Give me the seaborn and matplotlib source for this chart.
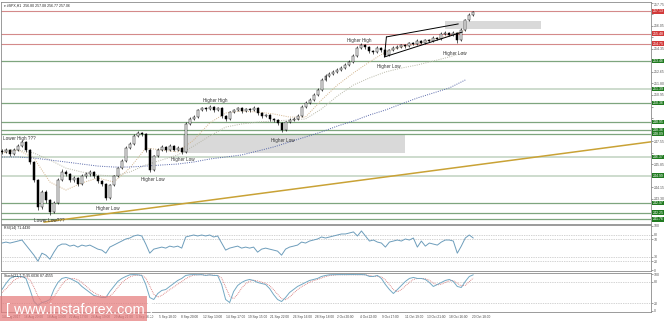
import numpy as np
import pandas as pd
import matplotlib
matplotlib.use("Agg")
import matplotlib.pyplot as plt
from matplotlib.patches import Rectangle
import seaborn as sns

# ---------------- data ----------------
close = [246.74, 246.89, 246.59, 246.89, 247.18, 247.48, 246.89, 246.00, 244.67, 242.67,
         243.78, 243.19, 242.30, 242.97, 244.67, 245.26, 245.11, 244.67, 244.82, 244.37,
         244.96, 245.11, 245.26, 244.96, 244.59, 244.37, 243.34, 244.30, 244.96, 245.55,
         246.07, 247.03, 247.33, 247.92, 248.14, 248.07, 246.89, 245.41, 246.44, 246.89,
         247.11, 246.89, 247.18, 246.89, 247.03, 246.74, 248.81, 249.18, 249.33, 249.84,
         249.99, 249.92, 250.06, 249.84, 249.99, 249.40, 249.18, 249.69, 249.84, 249.99,
         249.77, 249.92, 249.84, 249.99, 249.62, 249.40, 249.47, 249.18, 249.10, 248.88,
         248.36, 248.95, 249.10, 249.18, 249.40, 250.06, 250.36, 250.58, 250.95, 251.32,
         252.06, 252.35, 252.50, 252.65, 252.80, 252.94, 253.17, 253.39, 253.83, 254.42,
         254.64, 254.50, 254.20, 254.13, 254.42, 254.27, 253.91, 254.27, 254.42, 254.50,
         254.64, 254.57, 254.79, 254.72, 254.94, 254.79, 255.01, 254.94, 255.16, 255.09,
         255.46, 255.53, 255.38, 255.53, 255.01, 255.75, 256.49, 256.86, 257.08]
first_open = 246.80
high = [246.95, 247.00, 246.98, 247.05, 247.30, 247.62, 247.55, 246.95, 246.10, 244.75,
        243.95, 243.90, 243.30, 243.10, 244.80, 245.45, 245.40, 245.20, 244.95, 244.90,
        245.10, 245.25, 245.40, 245.35, 245.05, 244.70, 244.45, 244.40, 245.05, 245.65,
        246.20, 247.15, 247.45, 248.05, 248.30, 248.25, 248.15, 247.00, 246.55, 247.00,
        247.25, 247.20, 247.30, 247.25, 247.15, 247.10, 248.95, 249.30, 249.45, 249.95,
        250.10, 250.08, 250.18, 250.12, 250.10, 250.05, 249.50, 249.80, 249.95, 250.10,
        250.05, 250.02, 250.00, 250.12, 250.05, 249.72, 249.58, 249.55, 249.28, 249.20,
        248.95, 249.05, 249.22, 249.30, 249.52, 250.18, 250.48, 250.70, 251.08, 251.45,
        252.18, 252.48, 252.62, 252.78, 252.92, 253.06, 253.30, 253.52, 253.95, 254.55,
        254.78, 254.75, 254.60, 254.30, 254.55, 254.50, 254.35, 254.38, 254.55, 254.62,
        254.75, 254.72, 254.90, 254.88, 255.05, 255.02, 255.12, 255.10, 255.28, 255.25,
        255.58, 255.65, 255.60, 255.65, 255.60, 255.88, 256.60, 256.98, 257.14]
low = [246.60, 246.65, 246.48, 246.50, 246.80, 247.10, 246.75, 245.85, 244.50, 242.45,
       242.55, 243.00, 242.05, 242.20, 242.90, 244.60, 244.95, 244.50, 244.55, 244.20,
       244.30, 244.85, 245.00, 244.85, 244.45, 244.20, 243.20, 243.25, 244.20, 244.90,
       245.45, 246.00, 246.95, 247.25, 247.85, 247.95, 246.75, 245.25, 245.35, 246.35,
       246.80, 246.75, 246.80, 246.78, 246.80, 246.60, 246.70, 248.70, 249.10, 249.25,
       249.75, 249.80, 249.85, 249.72, 249.75, 249.28, 249.05, 249.10, 249.60, 249.75,
       249.65, 249.68, 249.72, 249.75, 249.50, 249.28, 249.30, 249.05, 248.98, 248.75,
       248.20, 248.28, 248.85, 249.00, 249.10, 249.32, 249.98, 250.28, 250.50, 250.88,
       251.25, 251.98, 252.25, 252.42, 252.55, 252.72, 252.85, 253.10, 253.30, 253.75,
       254.35, 254.38, 254.08, 254.00, 254.05, 254.15, 253.80, 253.85, 254.18, 254.35,
       254.42, 254.45, 254.50, 254.62, 254.65, 254.70, 254.72, 254.85, 254.88, 255.00,
       255.02, 255.38, 255.28, 255.30, 254.82, 254.95, 255.68, 256.40, 256.77]

rsi = [61.4, 63.6, 61.4, 63.6, 65.9, 68.2, 56.8, 45.5, 34.1, 20.5,
       38.6, 34.1, 25.0, 40.9, 54.5, 59.1, 59.1, 54.5, 56.8, 52.3,
       56.8, 54.5, 56.8, 52.3, 47.7, 45.5, 38.6, 52.3, 56.8, 61.4,
       65.9, 70.5, 72.7, 77.3, 79.5, 77.3, 59.1, 38.6, 47.7, 50.0,
       52.3, 50.0, 54.5, 52.3, 54.5, 50.0, 75.0, 77.3, 79.5, 77.3,
       79.5, 77.3, 79.5, 75.0, 77.3, 61.4, 45.5, 50.0, 52.3, 54.5,
       50.0, 52.3, 50.0, 52.3, 40.9, 47.7, 50.0, 47.7, 45.5, 43.2,
       34.1, 47.7, 52.3, 54.5, 56.8, 63.6, 61.4, 65.9, 68.2, 70.5,
       75.0, 72.7, 75.0, 77.3, 79.5, 81.8, 81.8, 84.1, 86.4, 77.3,
       88.6, 77.3, 65.9, 68.2, 63.6, 61.4, 52.3, 63.6, 65.9, 68.2,
       65.9, 70.5, 68.2, 72.7, 52.3, 65.9, 54.5, 61.4, 59.1, 56.8,
       63.6, 68.2, 68.2, 65.9, 38.6, 54.5, 72.7, 79.5, 72.7]

stoch_main = [58.3, 75.0, 88.9, 94.4, 94.4, 94.4, 88.9, 58.3, 25.0, 13.9,
              22.2, 25.0, 30.6, 58.3, 77.8, 88.9, 91.7, 88.9, 83.3, 77.8,
              66.7, 58.3, 50.0, 41.7, 38.9, 36.1, 36.1, 52.8, 66.7, 80.6,
              88.9, 94.4, 99.0, 99.5, 99.0, 97.2, 72.2, 36.1, 30.6, 47.2,
              55.6, 58.3, 66.7, 75.0, 83.3, 88.9, 97.2, 99.0, 99.5, 99.0,
              99.5, 97.2, 99.0, 97.2, 97.2, 72.2, 30.6, 22.2, 52.8, 69.4,
              77.8, 83.3, 86.1, 83.3, 77.8, 75.0, 72.2, 61.1, 44.4, 30.6,
              25.0, 36.1, 50.0, 58.3, 66.7, 72.2, 77.8, 83.3, 86.1, 88.9,
              94.4, 97.2, 99.0, 99.3, 99.5, 99.6, 99.5, 99.7, 99.7, 99.5,
              99.7, 99.0, 94.4, 94.4, 97.2, 88.9, 72.2, 58.3, 47.2, 58.3,
              69.4, 80.6, 88.9, 91.7, 88.9, 88.9, 86.1, 77.8, 66.7, 72.2,
              77.8, 83.3, 86.1, 80.6, 66.7, 63.9, 80.6, 94.4, 99.0]
stoch_signal = [50, 60, 72, 84, 90, 93, 93, 85, 65, 40,
                22, 20, 24, 38, 55, 72, 84, 89, 89, 85,
                78, 68, 58, 50, 44, 40, 37, 40, 50, 64,
                77, 86, 93, 97, 98, 98, 90, 68, 45, 37,
                42, 50, 58, 65, 73, 80, 88, 94, 98, 99,
                99, 98, 98, 98, 97, 90, 65, 40, 33, 45,
                62, 74, 81, 84, 82, 79, 75, 69, 58, 45,
                33, 30, 37, 48, 58, 66, 72, 78, 83, 86,
                90, 94, 97, 98, 99, 99, 99, 99, 99, 99,
                99, 99, 97, 95, 95, 93, 85, 72, 58, 52,
                58, 68, 78, 86, 89, 89, 88, 84, 76, 71,
                73, 78, 82, 83, 76, 68, 70, 80, 90]

# moving averages sampled every 4th bar
ma_fast = [246.66, 246.89, 246.29, 244.52, 243.93, 244.45, 244.82, 244.52, 245.55, 247.03,
           246.89, 246.74, 247.62, 248.88, 249.62, 249.77, 249.69, 249.55, 249.32, 249.32,
           250.58, 251.69, 252.58, 253.39, 254.13, 254.50, 254.72, 255.09, 255.31, 255.75]
ma_mid = [246.89, 246.89, 246.66, 246.15, 245.55, 245.26, 245.04, 244.96, 245.26, 245.78,
          246.15, 246.52, 247.18, 247.92, 248.58, 248.81, 248.95, 249.03, 249.10, 249.18,
          249.92, 250.88, 251.69, 252.21, 252.65, 252.94, 253.17, 253.46, 253.76, 254.13]
ma_slow = [246.37, 246.37, 246.29, 246.15, 246.00, 245.85, 245.70, 245.63, 245.63, 245.70,
           245.78, 245.85, 246.00, 246.22, 246.37, 246.52, 246.81, 247.11, 247.48, 247.85,
           248.22, 248.66, 249.03, 249.47, 249.84, 250.29, 250.73, 251.10, 251.47, 252.06]
ma_every = 4

date_labels = ["14 Aug 2017", "16 Aug 20:00", "18 Aug 13:00", "22 Aug 17:00", "24 Aug 19:00",
               "29 Aug 21:00", "1 Sep 16:00", "5 Sep 18:00", "8 Sep 20:00", "12 Sep 13:00",
               "14 Sep 17:00", "19 Sep 15:00", "21 Sep 22:00", "26 Sep 16:00", "28 Sep 18:00",
               "2 Oct 20:00", "4 Oct 22:00", "9 Oct 17:00", "11 Oct 19:00", "13 Oct 21:00",
               "18 Oct 16:00", "20 Oct 18:00"]
bars_per_label = 5.6

price_ticks = [257.75, 256.90, 256.05, 255.20, 254.35, 253.50, 252.65, 251.80, 250.95, 250.10,
               249.25, 248.40, 247.55, 246.70, 245.85, 245.00, 244.15, 243.30, 242.45]
red_levels = [257.13, 255.48, 254.75]
green_levels = [253.46, 250.36, 248.95, 248.36, 248.09, 242.97, 242.25, 241.76]
light_levels = [251.39, 246.37, 244.99]

# zones: (bar start, bar end, price low, price high)
zones = [(111.0, 135.0, 255.83, 256.42), (45.25, 101.0, 246.66, 248.07)]
support_bars = [10.5, 162.75]
support_prices = [241.56, 247.50]
channel_top_bars = [96.25, 114.25]
channel_top_prices = [255.24, 256.20]
channel_bot_bars = [95.75, 115.25]
channel_bot_prices = [253.76, 255.60]

notes = [("Lower High ???", 0.2, 247.77), ("Lower Low???", 8.0, 241.71),
         ("Higher Low", 23.5, 242.60), ("Higher Low", 34.75, 244.74),
         ("Higher Low", 42.25, 246.15), ("Higher High", 50.25, 250.58),
         ("Higher Low", 67.25, 247.62), ("Higher High", 86.5, 254.94),
         ("Higher Low", 94.0, 253.02), ("Higher Low", 110.5, 254.05)]

title = "\u25be #SPX,H1  256.80 257.08 256.77 257.06"
rsi_title = "RSI(14) 71.4430"
stoch_title = "Stoch(21,7,7) 95.6036 87.4555"

# ---------------- figure ----------------
sns.set_style("white")
plt.rcParams["font.family"] = ["Liberation Sans", "DejaVu Sans"]

W, H = 665, 321
fig = plt.figure(figsize=(W / 100, H / 100), dpi=100)

def frac(x0, y0, x1, y1):
    return [x0 / W, 1 - y1 / H, (x1 - x0) / W, (y1 - y0) / H]

RIGHT = 651
ax = fig.add_axes(frac(1, 2, RIGHT, 224))
axr = fig.add_axes(frac(1, 225, RIGHT, 271))
axs = fig.add_axes(frac(1, 273, RIGHT, 312))

n = len(close)
idx = np.arange(n)
opens = [first_open] + close[:-1]
XMAX = 162.5
SMALL = 2.5
for a in (ax, axr, axs):
    a.set_xlim(-0.25, XMAX)
    for s in a.spines.values():
        s.set_color("#8a8a8a")
        s.set_linewidth(0.6)

ax.set_ylim(241.42, 257.82)

# zones
for b0, b1, p0, p1 in zones:
    ax.add_patch(Rectangle((b0, p0), b1 - b0, p1 - p0, facecolor="#d9d9d9",
                           edgecolor="none", zorder=1))

# horizontal levels
for p in red_levels:
    ax.axhline(p, color="#d48a8a", lw=0.8, zorder=2)
for p in green_levels:
    ax.axhline(p, color="#7ea57e", lw=0.9, zorder=2)
for p in light_levels:
    ax.axhline(p, color="#cddccd", lw=1.4, zorder=2)

# support trend line
ax.plot(support_bars, support_prices, color="#c9a235", lw=1.1, zorder=3)

# moving averages through seaborn
ma_idx = np.arange(0, n, ma_every)[:len(ma_fast)]
ma_df = pd.DataFrame({"bar": ma_idx, "fast": ma_fast, "mid": ma_mid, "slow": ma_slow})
sns.lineplot(data=ma_df, x="bar", y="fast", ax=ax, color="#d2b48c", lw=0.7,
             linestyle=(0, (1, 1.3)), zorder=3)
sns.lineplot(data=ma_df, x="bar", y="mid", ax=ax, color="#b8b8a8", lw=0.7,
             linestyle=(0, (1, 1.3)), zorder=3)
sns.lineplot(data=ma_df, x="bar", y="slow", ax=ax, color="#5565a8", lw=0.7,
             linestyle=(0, (1, 1.3)), zorder=3)

# candles
ax.vlines(idx, low, high, color="black", lw=0.45, zorder=4)
for i in range(n):
    o, c = opens[i], close[i]
    bull = c >= o
    ax.bar(i, max(abs(c - o), 0.02), bottom=min(o, c), width=0.5,
           color="white" if bull else "black", edgecolor="black", linewidth=0.35, zorder=5)

# channel
ax.plot(channel_top_bars, channel_top_prices, color="black", lw=0.7, zorder=6)
ax.plot(channel_bot_bars, channel_bot_prices, color="black", lw=0.7, zorder=6)
ax.plot([channel_top_bars[0], channel_bot_bars[0]],
        [channel_top_prices[0], channel_bot_prices[0]], color="black", lw=0.7, zorder=6)

# annotations
for txt, b, p in notes:
    ax.text(b, p, txt, fontsize=3.3, color="#333333", ha="left", va="center", zorder=7)

ax.text(0.005, 0.993, title, transform=ax.transAxes, fontsize=SMALL, color="#222222",
        ha="left", va="top")

# right price axis (tick labels hidden behind level boxes are left out)
all_levels = red_levels + green_levels + light_levels
ax.yaxis.tick_right()
ax.set_yticks(price_ticks)
ax.set_yticklabels([f"{p:.2f}" if min(abs(p - q) for q in all_levels) > 0.33 else ""
                    for p in price_ticks])
ax.tick_params(axis="y", labelsize=SMALL, length=1.2, width=0.4, pad=0.6,
               colors="#555555")
ax.get_yticklabels()[0].set_va("top")
ax.set_xticks([])
ax.set_ylabel("")
ax.set_xlabel("")
ytr = ax.get_yaxis_transform()
for p in red_levels:
    ax.text(1.0025, p, f"{p:.2f}", transform=ytr, fontsize=SMALL, color="white",
            ha="left", va="center", clip_on=False, zorder=8,
            bbox=dict(boxstyle="square,pad=0.12", fc="#d23a3a", ec="none"))
for p in green_levels + light_levels:
    ax.text(1.0025, p, f"{p:.2f}", transform=ytr, fontsize=SMALL, color="white",
            ha="left", va="center", clip_on=False, zorder=8,
            bbox=dict(boxstyle="square,pad=0.12", fc="#207a20", ec="none"))

# RSI panel
rsi_df = pd.DataFrame({"bar": idx, "rsi": rsi})
axr.set_ylim(-1.5, 102)
for lv in (80, 70, 30, 20):
    axr.axhline(lv, color="#a8a8a8", lw=0.5, linestyle=(0, (1, 1.5)))
sns.lineplot(data=rsi_df, x="bar", y="rsi", ax=axr, color="#6d9dbb", lw=0.7)
axr.yaxis.tick_right()
axr.set_yticks([100, 80, 70, 30, 20, 0])
axr.set_yticklabels(["100", "80", "70", "30", "20", "0"])
axr.tick_params(axis="y", labelsize=SMALL, length=1.2, width=0.4, pad=0.6, colors="#555555")
axr.set_xticks([])
axr.set_xlabel("")
axr.set_ylabel("")
axr.text(0.005, 0.97, rsi_title, transform=axr.transAxes, fontsize=SMALL,
         color="#222222", ha="left", va="top")

# Stochastic panel
st_df = pd.DataFrame({"bar": idx, "main": stoch_main, "signal": stoch_signal})
axs.set_ylim(-4, 104)
for lv in (80, 20):
    axs.axhline(lv, color="#a8a8a8", lw=0.5, linestyle=(0, (1, 1.5)))
sns.lineplot(data=st_df, x="bar", y="signal", ax=axs, color="#d46a6a", lw=0.6,
             linestyle=(0, (1, 1.2)))
sns.lineplot(data=st_df, x="bar", y="main", ax=axs, color="#74a9c4", lw=0.7)
axs.yaxis.tick_right()
axs.set_yticks([100, 80, 20, 0])
axs.set_yticklabels(["100", "80", "20", "0"])
axs.tick_params(axis="y", labelsize=SMALL, length=1.2, width=0.4, pad=0.6, colors="#555555")
axs.set_ylabel("")
axs.set_xlabel("")
axs.text(0.005, 0.97, stoch_title, transform=axs.transAxes, fontsize=SMALL,
         color="#222222", ha="left", va="top")
tick_pos = np.arange(len(date_labels)) * bars_per_label
axs.set_xticks(tick_pos)
axs.set_xticklabels(date_labels, ha="left")
axs.tick_params(axis="x", labelsize=2.3, length=1.5, width=0.4, pad=1.0,
                colors="#444444")

# watermark
fig.add_artist(Rectangle((0, 0), 147 / W, 25 / H, transform=fig.transFigure,
                         facecolor="#e57b7b", edgecolor="none", alpha=0.72, zorder=20))
fig.text(6 / W, 11 / H, "[ www.instaforex.com ]", color="white", fontsize=10.5,
         ha="left", va="center", zorder=21)

fig.savefig("out.png", dpi=100, facecolor="white")
